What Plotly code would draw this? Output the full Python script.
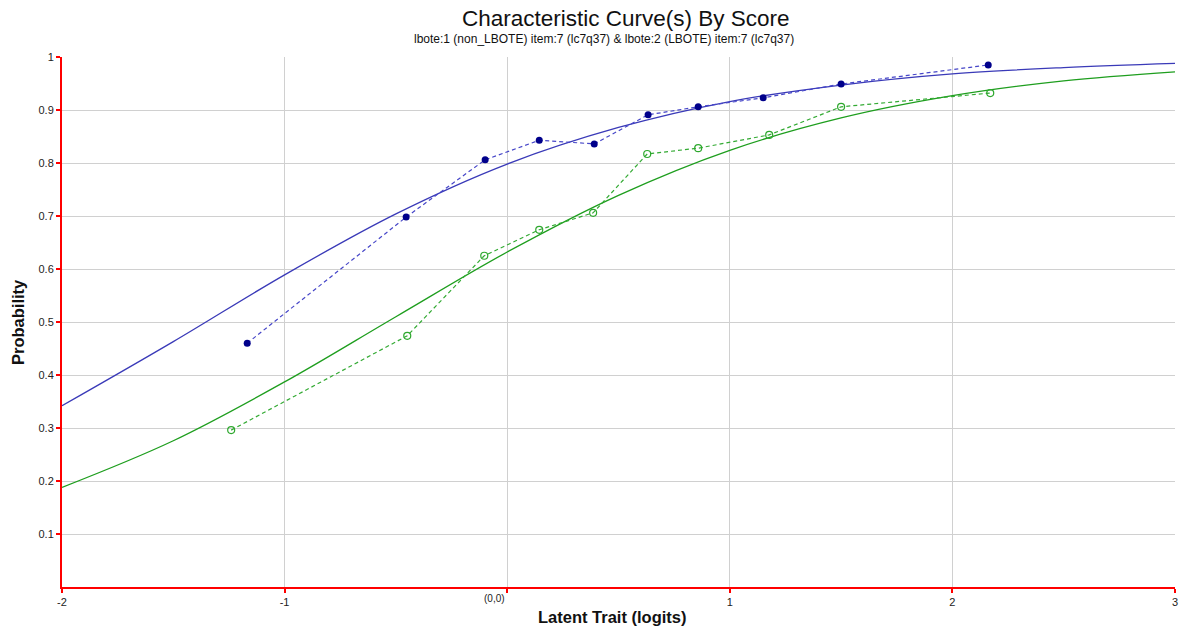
import plotly.graph_objects as go

# Model (expected) curves
curve_x = [-2.0, -1.5, -1.0, -0.5, 0.0, 0.5, 1.0, 1.5, 2.0, 2.5, 3.0]
curve_non_lbote = [0.342, 0.463, 0.589, 0.704, 0.798, 0.867, 0.916, 0.947, 0.968, 0.980, 0.988]
curve_lbote = [0.188, 0.276, 0.387, 0.510, 0.632, 0.739, 0.824, 0.885, 0.927, 0.955, 0.972]

# Observed points by score group
obs_non_lbote_x = [-1.168, -0.454, -0.099, 0.144, 0.391, 0.633, 0.858, 1.150, 1.500, 2.161]
obs_non_lbote_y = [0.460, 0.698, 0.806, 0.843, 0.836, 0.891, 0.906, 0.923, 0.949, 0.985]
obs_lbote_x = [-1.240, -0.449, -0.103, 0.144, 0.386, 0.629, 0.858, 1.177, 1.500, 2.170]
obs_lbote_y = [0.296, 0.474, 0.625, 0.674, 0.706, 0.817, 0.828, 0.853, 0.906, 0.932]

x_tickvals = [-2, -1, 0, 1, 2, 3]
x_ticktext = ["-2", "-1", "", "1", "2", "3"]
origin_label = "(0,0)"
y_tickvals = [0.1, 0.2, 0.3, 0.4, 0.5, 0.6, 0.7, 0.8, 0.9, 1.0]
y_ticktext = ["0.1", "0.2", "0.3", "0.4", "0.5", "0.6", "0.7", "0.8", "0.9", "1"]

BLUE_CURVE = "#3a3ab8"
BLUE_PT = "#00008b"
BLUE_DASH = "#4646c8"
GREEN_CURVE = "#1e9e1e"
GREEN_PT = "#2ea82e"
GREEN_DASH = "#33aa33"

fig = go.Figure()
fig.add_trace(go.Scatter(x=curve_x, y=curve_non_lbote, mode="lines",
                         line=dict(color=BLUE_CURVE, width=1.3, shape="spline"),
                         showlegend=False, hoverinfo="skip"))
fig.add_trace(go.Scatter(x=curve_x, y=curve_lbote, mode="lines",
                         line=dict(color=GREEN_CURVE, width=1.3, shape="spline"),
                         showlegend=False, hoverinfo="skip"))
fig.add_trace(go.Scatter(x=obs_non_lbote_x, y=obs_non_lbote_y, mode="lines+markers",
                         line=dict(color=BLUE_DASH, width=1.2, dash="4px,3px"),
                         marker=dict(color=BLUE_PT, size=7, symbol="circle"),
                         showlegend=False))
fig.add_trace(go.Scatter(x=obs_lbote_x, y=obs_lbote_y, mode="lines+markers",
                         line=dict(color=GREEN_DASH, width=1.2, dash="4px,3px"),
                         marker=dict(color=GREEN_PT, size=7, symbol="circle-open",
                                     line=dict(width=1.2, color=GREEN_PT)),
                         showlegend=False))

fig.update_layout(
    width=1179, height=633,
    margin=dict(l=62, r=4, t=57, b=46, autoexpand=False),
    paper_bgcolor="white", plot_bgcolor="white",
    font=dict(family="Liberation Sans, Arial, sans-serif", color="#222222"),
    annotations=[
        dict(text="Characteristic Curve(s) By Score", x=0.507, y=1, xref="paper", yref="paper",
             yshift=24, xanchor="center", yanchor="bottom", showarrow=False,
             font=dict(size=22.5, color="#111111")),
        dict(text="lbote:1 (non_LBOTE) item:7 (lc7q37) & lbote:2 (LBOTE) item:7 (lc7q37)",
             x=0.487, y=1, xref="paper", yref="paper", yshift=9,
             xanchor="center", yanchor="bottom", showarrow=False,
             font=dict(size=12, color="#111111")),
        dict(text=origin_label, x=0, y=0, xref="x", yref="paper",
             xshift=-13, yshift=-11, xanchor="center", yanchor="middle", showarrow=False,
             font=dict(size=10, color="#222222")),
        dict(text="<b>Latent Trait (logits)</b>", x=0.495, y=0, xref="paper", yref="paper",
             yshift=-30, xanchor="center", yanchor="middle", showarrow=False,
             font=dict(size=16.5, color="#111111")),
        dict(text="<b>Probability</b>", x=0, y=0.5, xref="paper", yref="paper",
             xshift=-44, xanchor="center", yanchor="middle", showarrow=False, textangle=-90,
             font=dict(size=16.5, color="#111111")),
    ],
    xaxis=dict(range=[-2, 3], tickvals=x_tickvals, ticktext=x_ticktext, automargin=False,
               showline=True, linecolor="red", linewidth=2, mirror=False,
               ticks="outside", tickcolor="red", tickwidth=2, ticklen=4,
               showgrid=True, gridcolor="#d0d0d0", gridwidth=1, zeroline=False,
               tickfont=dict(size=11, color="#222222")),
    yaxis=dict(range=[0, 1], tickvals=y_tickvals, ticktext=y_ticktext, automargin=False,
               showline=True, linecolor="red", linewidth=2, mirror=False,
               ticks="outside", tickcolor="red", tickwidth=2, ticklen=4,
               showgrid=True, gridcolor="#d0d0d0", gridwidth=1, zeroline=False,
               tickfont=dict(size=11, color="#222222")),
)

fig.write_html("out.html", config={"displayModeBar": False},
               post_script="document.body.style.margin='0px';document.body.style.overflow='hidden';")
